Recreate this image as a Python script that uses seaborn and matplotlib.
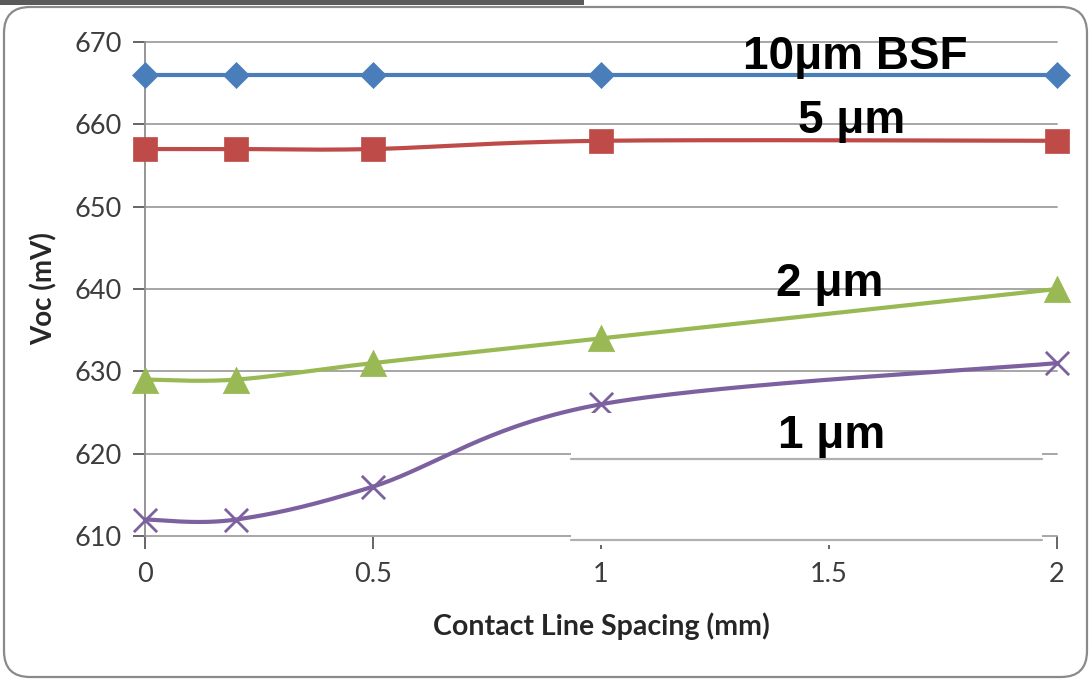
import numpy as np
import pandas as pd
import matplotlib
matplotlib.use("Agg")
import matplotlib.pyplot as plt
from matplotlib.patches import FancyBboxPatch, Rectangle
from matplotlib.lines import Line2D
import seaborn as sns

# ---- data -------------------------------------------------------------
spacing_mm = [0, 0.2, 0.5, 1, 2]
voc_10um_bsf = [666, 666, 666, 666, 666]
voc_5um = [657, 657, 657, 658, 658]
voc_2um = [629, 629, 631, 634, 640]
voc_1um = [612, 612, 616, 626, 631]

series_names = ["10\u03bcm BSF", "5 \u03bcm", "2 \u03bcm", "1 \u03bcm"]
series_values = [voc_10um_bsf, voc_5um, voc_2um, voc_1um]

x_ticks = [0, 0.5, 1, 1.5, 2]
x_tick_labels = ["0", "0.5", "1", "1.5", "2"]
y_ticks = [610, 620, 630, 640, 650, 660, 670]

# ---- styling ----------------------------------------------------------
colors = ["#4A7EBB", "#BE4B48", "#98B954", "#7D60A0"]
markers = ["D", "s", "^", "x"]
marker_sizes = [175, 310, 360, 280]
label_pos = [(1.557, 666.7), (1.55, 659.0), (1.502, 639.2), (1.505, 620.7)]

sns.set_theme(style="white")
plt.rcParams["font.family"] = ["Lato", "DejaVu Sans"]

W, H = 1089, 682
fig = plt.figure(figsize=(W / 100, H / 100), dpi=100)
fig.patch.set_facecolor("white")

# chart frame with rounded corners and the dark strip along the top
frame = FancyBboxPatch((4, 5), 1083, 670,
                       boxstyle="round,pad=0,rounding_size=26",
                       transform=None, facecolor="white",
                       edgecolor="#8a8a8a", linewidth=1.6, zorder=-2)
fig.add_artist(frame)
fig.add_artist(Rectangle((0, H - 5), 584, 5, transform=None,
                         facecolor="#5a5a5a", edgecolor="none", zorder=-1))

ax = fig.add_axes([145 / W, 1 - 536 / H, (1057 - 145) / W, (536 - 42) / H])
ax.set_facecolor("none")
ax.set_zorder(2)


def smooth_curve(xs, ys, n=60):
    """Bezier smoothing through every point (Catmull-Rom control points)."""
    P = np.column_stack([xs, ys]).astype(float)
    out = []
    t = np.linspace(0, 1, n)[:, None]
    for i in range(len(P) - 1):
        p0 = P[i - 1] if i > 0 else P[i]
        p1, p2 = P[i], P[i + 1]
        p3 = P[i + 2] if i + 2 < len(P) else P[i + 1]
        c1 = p1 + (p2 - p0) / 6.0
        c2 = p2 - (p3 - p1) / 6.0
        seg = ((1 - t) ** 3) * p1 + 3 * ((1 - t) ** 2) * t * c1 \
            + 3 * (1 - t) * t ** 2 * c2 + t ** 3 * p2
        out.append(seg if i == 0 else seg[1:])
    pts = np.vstack(out)
    return pts[:, 0], pts[:, 1]


rows = []
for name, vals in zip(series_names, series_values):
    for x, v in zip(spacing_mm, vals):
        rows.append({"spacing": x, "voc": v, "series": name})
df = pd.DataFrame(rows)

# gridlines
for yv in y_ticks:
    ax.axhline(yv, color="#a6a6a6", lw=1.4, zorder=1, clip_on=False)

for name, col, mk, ms in zip(series_names, colors, markers, marker_sizes):
    sub = df[df["series"] == name]
    sx, sy = smooth_curve(sub["spacing"].values, sub["voc"].values)
    ax.plot(sx, sy, color=col, lw=3.0, zorder=3, clip_on=False,
            solid_capstyle="round")
    sns.scatterplot(data=sub, x="spacing", y="voc", ax=ax,
                    marker=mk, s=ms, color=col,
                    edgecolor=col if mk != "x" else None,
                    linewidth=2.0 if mk == "x" else 0.5,
                    zorder=4, clip_on=False, legend=False)

ax.set_xlim(0, 2)
ax.set_ylim(610, 670)
ax.set_xticks(x_ticks)
ax.set_xticklabels(x_tick_labels)
ax.set_yticks(y_ticks)
ax.tick_params(axis="both", labelsize=19.5, colors="#595959",
               labelcolor="#3d3d3d", length=9, width=1.3)
ax.tick_params(axis="x", pad=10, direction="out", bottom=True)
ax.tick_params(axis="y", pad=8, direction="out", left=True)

for side in ["top", "right", "bottom"]:
    ax.spines[side].set_visible(False)
ax.spines["left"].set_color("#8c8c8c")
ax.spines["left"].set_linewidth(1.3)

ax.set_xlabel("Contact Line Spacing (mm)", fontsize=20.5, fontweight="bold",
              color="#262626", labelpad=18)
ax.set_ylabel("Voc (mV)", fontsize=20, fontweight="bold", color="#262626",
              labelpad=12)

# white panel in the lower right, carrying its own two gridlines
ax.add_patch(Rectangle((571, H - 545), 1042 - 571, 545 - 413, transform=None,
                       facecolor="white", edgecolor="none", zorder=5,
                       clip_on=False))
for ypx in (459, 540):
    ax.add_line(Line2D([571, 1042], [H - ypx, H - ypx], transform=None,
                       color="#b0b0b0", lw=1.6, zorder=6, clip_on=False))

# series labels
for name, (lx, ly) in zip(series_names, label_pos):
    ax.text(lx, ly, name, ha="center", va="baseline", fontsize=33,
            fontweight="bold", family=["Liberation Sans", "DejaVu Sans"],
            color="black", zorder=10)

fig.savefig("out.png", dpi=100, facecolor="white")
